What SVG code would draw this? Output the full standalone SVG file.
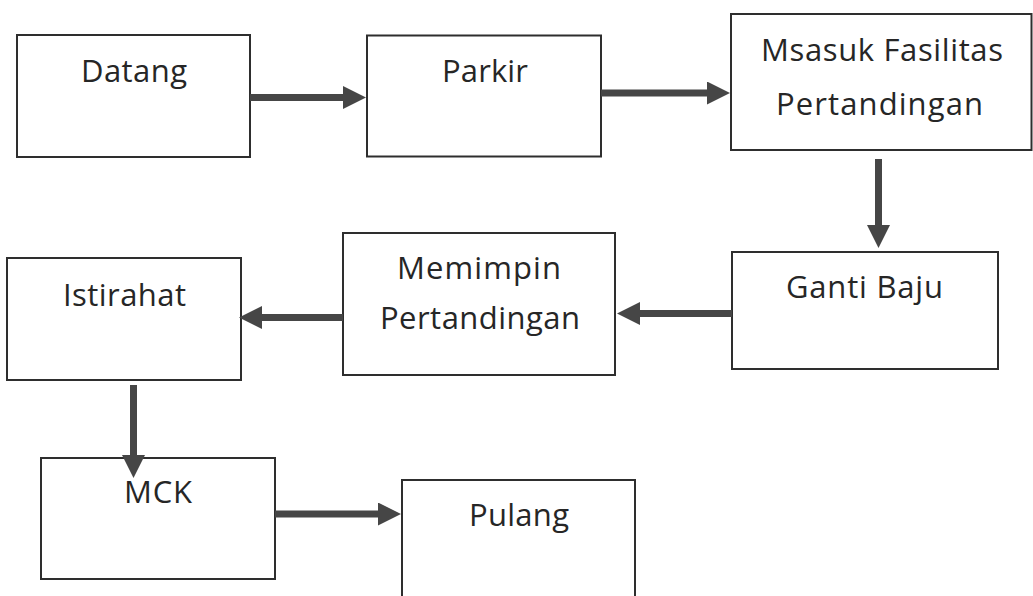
<svg xmlns="http://www.w3.org/2000/svg" width="1033" height="596" viewBox="0 0 1033 596">
  <style>
    .box { fill: #ffffff; stroke: #2e2e2e; stroke-width: 2; }
    .lbl { font-family: "Open Sans", "Noto Sans", "Liberation Sans", sans-serif; font-size: 31px; fill: #262626; text-anchor: middle; }
    .shaft { fill: none; stroke: #464646; stroke-width: 7; stroke-linecap: butt; }
  </style>
  <defs>
    <marker id="head" viewBox="0 0 24 24" refX="0" refY="12" markerWidth="24" markerHeight="23" markerUnits="userSpaceOnUse" orient="auto">
      <path d="M0,0 L24,12 L0,24 Z" fill="#464646"/>
    </marker>
  </defs>

  <rect width="1033" height="596" fill="#ffffff"/>

  <g id="node-datang">
    <rect class="box" x="17" y="35" width="233" height="122"/>
    <text class="lbl" x="134" y="82" textLength="106" lengthAdjust="spacing">Datang</text>
  </g>

  <g id="node-parkir">
    <rect class="box" x="367" y="35.5" width="234" height="121"/>
    <text class="lbl" x="485" y="82" textLength="86" lengthAdjust="spacing">Parkir</text>
  </g>

  <g id="node-masuk">
    <rect class="box" x="731" y="14" width="300.5" height="136"/>
    <text class="lbl" x="882" y="61" textLength="242" lengthAdjust="spacing">Msasuk Fasilitas</text>
    <text class="lbl" x="879.5" y="115" textLength="207" lengthAdjust="spacing">Pertandingan</text>
  </g>

  <g id="node-ganti-baju">
    <rect class="box" x="732" y="252" width="266" height="117"/>
    <text class="lbl" x="864.5" y="298" textLength="157" lengthAdjust="spacing">Ganti Baju</text>
  </g>

  <g id="node-memimpin">
    <rect class="box" x="343" y="233" width="272" height="142"/>
    <text class="lbl" x="479" y="279" textLength="164" lengthAdjust="spacing">Memimpin</text>
    <text class="lbl" x="480" y="329" textLength="200" lengthAdjust="spacing">Pertandingan</text>
  </g>

  <g id="node-istirahat">
    <rect class="box" x="7" y="258" width="234" height="122"/>
    <text class="lbl" x="124.5" y="306" textLength="123" lengthAdjust="spacing">Istirahat</text>
  </g>

  <g id="node-mck">
    <rect class="box" x="41" y="458" width="234" height="121"/>
    <text class="lbl" x="158" y="503" textLength="68" lengthAdjust="spacing">MCK</text>
  </g>

  <g id="node-pulang">
    <rect class="box" x="402" y="480" width="233" height="125"/>
    <text class="lbl" x="519" y="526" textLength="100" lengthAdjust="spacing">Pulang</text>
  </g>

  <!-- flow arrows: shaft ends at the base of the head, marker draws the head -->
  <g id="connectors">
    <path class="shaft" d="M250,97.5 H343" marker-end="url(#head)"/>
    <path class="shaft" d="M601,93 H707" marker-end="url(#head)"/>
    <path class="shaft" d="M878.5,159 V225" marker-end="url(#head)"/>
    <path class="shaft" d="M732,313.5 H640" marker-end="url(#head)"/>
    <path class="shaft" d="M343,317.5 H262" marker-end="url(#head)"/>
    <path class="shaft" d="M133.5,385 V455" marker-end="url(#head)"/>
    <path class="shaft" d="M275,514 H378" marker-end="url(#head)"/>
  </g>
</svg>
